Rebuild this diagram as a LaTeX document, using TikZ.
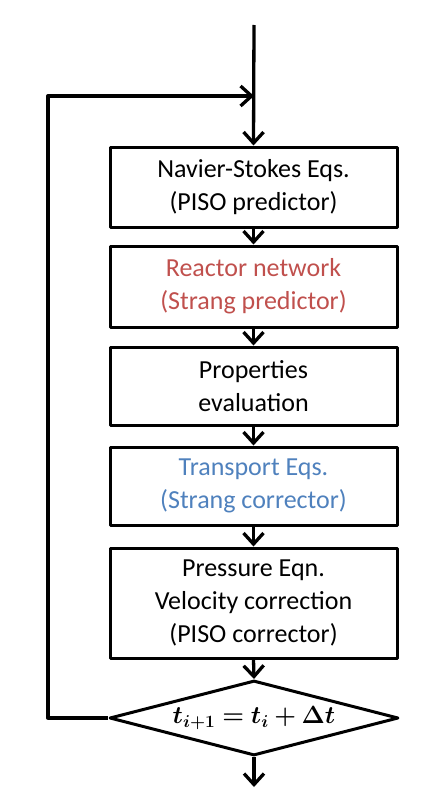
\documentclass[tikz,border=0pt]{standalone}
\usepackage{fontspec}
\setmainfont{Carlito}
\usepackage{bm}
\usetikzlibrary{arrows.meta,shapes.geometric}
\definecolor{reactred}{RGB}{192,80,77}
\definecolor{transblue}{RGB}{79,129,189}
\begin{document}
\begin{tikzpicture}[x=1pt,y=-1pt,line width=3.3pt,line join=round,
  box/.style={draw,line width=3pt,minimum width=287pt,align=center,inner sep=0pt,
    font=\fontsize{26}{33}\selectfont},
  arr/.style={-{Straight Barb[length=11pt,width=20pt]}}]
\useasboundingbox (0,0) rectangle (440,808);
\node[box,minimum height=80pt] (b1) at (253.5,187) {Navier-Stokes Eqs.\\(PISO predictor)};
\node[box,minimum height=81pt,text=reactred] (b2) at (253.5,286.5) {Reactor network\\(Strang predictor)};
\node[box,minimum height=78pt] (b3) at (253.5,386) {Properties\\evaluation};
\node[box,minimum height=78pt,text=transblue] (b4) at (253.5,486) {Transport Eqs.\\(Strang corrector)};
\node[box,minimum height=110pt] (b5) at (253.5,603) {Pressure Eqn.\\Velocity correction\\(PISO corrector)};
\node[draw,line width=3pt,shape=diamond,aspect=3.8,minimum width=289pt,minimum height=75pt,inner sep=0pt,
  font=\fontsize{24}{28}\selectfont] (d) at (254,718) {$\bm{t_{i+1}=t_i+\Delta t}$};
\coordinate (top) at (254,25);
\coordinate (j) at (254,96);
\coordinate (lc) at (48,96);
\coordinate (lb) at (48,718);
\coordinate (bot) at (254,787);
\draw[arr] (top) -- (b1.north);
\draw[arr] (b1.south) -- (b2.north);
\draw[arr] (b2.south) -- (b3.north);
\draw[arr] (b3.south) -- (b4.north);
\draw[arr] (b4.south) -- (b5.north);
\draw[arr] (b5.south) -- (d.north);
\draw[arr] (d.south) -- (bot);
\draw[arr] (d.west) -- (lb) -- (lc) -- (j);
\end{tikzpicture}
\end{document}
